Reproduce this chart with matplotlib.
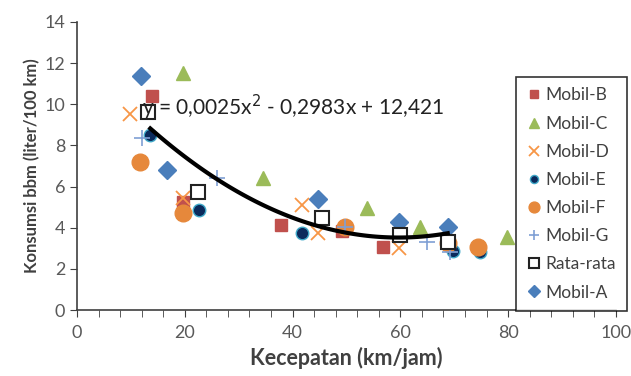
import matplotlib
matplotlib.use('Agg')
import matplotlib.pyplot as plt
import numpy as np

plt.rcParams['font.family'] = ['Lato', 'DejaVu Sans']

# Data
mobil_b_x = [13.9, 19.7, 37.8, 49.2, 56.8]
mobil_b_y = [10.4, 5.25, 4.13, 3.85, 3.05]
mobil_c_x = [19.7, 34.5, 53.8, 63.6, 79.8]
mobil_c_y = [11.5, 6.4, 4.95, 4.05, 3.55]
mobil_d_x = [9.8, 19.7, 41.7, 44.7, 59.7]
mobil_d_y = [9.55, 5.45, 5.1, 3.75, 3.0]
mobil_e_x = [13.5, 22.6, 41.8, 69.8, 74.8]
mobil_e_y = [8.5, 4.85, 3.73, 2.87, 2.83]
mobil_f_x = [11.7, 19.7, 49.7, 68.8, 74.4]
mobil_f_y = [7.2, 4.7, 4.05, 3.25, 3.07]
mobil_g_x = [12.0, 26.0, 49.7, 65.0, 69.2]
mobil_g_y = [8.35, 6.4, 4.05, 3.3, 2.8]
rata_x = [13.2, 22.5, 45.4, 60.0, 68.8]
rata_y = [9.63, 5.75, 4.47, 3.65, 3.3]
mobil_a_x = [11.9, 16.7, 44.7, 59.7, 68.8]
mobil_a_y = [11.38, 6.8, 5.4, 4.28, 4.03]

# trendline coefficients (from the equation shown)
coef = [0.0025, -0.2983, 12.421]
eq_text = 'y = 0,0025x$^2$ - 0,2983x + 12,421'

fig = plt.figure(figsize=(6.31, 3.76), dpi=100)
ax = fig.add_axes([0.122, 0.1755, 0.854, 0.766])

ax.plot(mobil_b_x, mobil_b_y, 's', color='#C0504D', markersize=9, label='Mobil-B', zorder=3)
ax.plot(mobil_c_x, mobil_c_y, '^', color='#9BBB59', markersize=10, label='Mobil-C', zorder=3)
ax.plot(mobil_d_x, mobil_d_y, 'x', color='#F79646', markersize=10, markeredgewidth=1.3, label='Mobil-D', zorder=3)
ax.plot(mobil_e_x, mobil_e_y, 'o', color='#0B2A5C', markeredgecolor='#3FA8C8', markeredgewidth=1,
        markersize=9, label='Mobil-E', zorder=3)
ax.plot(mobil_f_x, mobil_f_y, 'o', color='#E6883B', markersize=12, label='Mobil-F', zorder=3)
ax.plot(mobil_g_x, mobil_g_y, '+', color='#7F9FD4', markersize=12, markeredgewidth=1.2, label='Mobil-G', zorder=4)
ax.plot(rata_x, rata_y, 's', markerfacecolor='white', markeredgecolor='#222222', markeredgewidth=1.5,
        markersize=10, label='Rata-rata', zorder=5)
ax.plot(mobil_a_x, mobil_a_y, 'D', color='#4A7EBB', markersize=9, label='Mobil-A', zorder=4)

xs = np.linspace(13.6, max(rata_x), 100)
ax.plot(xs, np.polyval(coef, xs), color='black', linewidth=3, zorder=6)

ax.text(12.0, 9.85, eq_text, fontsize=15, color='#222222', va='center', ha='left', zorder=7)

ax.set_xlim(0, 100)
ax.set_ylim(0, 14)
ax.set_xticks(np.arange(0, 101, 20))
ax.set_xticks(np.arange(0, 101, 4), minor=True)
ax.set_yticks(np.arange(0, 15, 2))
for s in ['top', 'right']:
    ax.spines[s].set_visible(False)
for s in ['left', 'bottom']:
    ax.spines[s].set_color('#404040')
    ax.spines[s].set_linewidth(1.2)
ax.tick_params(which='both', direction='out', length=5, color='#404040', labelsize=13, labelcolor='#595959')
ax.tick_params(axis='x', pad=6)

ax.set_xlabel('Kecepatan (km/jam)', fontsize=15.5, fontweight='bold', color='#404040')
ax.set_ylabel('Konsumsi bbm (liter/100 km)', fontsize=12, fontweight='bold', color='#404040', labelpad=3)

leg = fig.legend(loc='upper left', bbox_to_anchor=(0.818, 0.795), fontsize=12.5, frameon=True,
                 fancybox=False, edgecolor='black', markerscale=0.65, handlelength=0.8,
                 handletextpad=0.3, labelspacing=0.7, borderpad=0.6, borderaxespad=0)
leg.get_frame().set_linewidth(1.2)
for t in leg.get_texts():
    t.set_color('#404040')

fig.savefig('out.png', dpi=100)
